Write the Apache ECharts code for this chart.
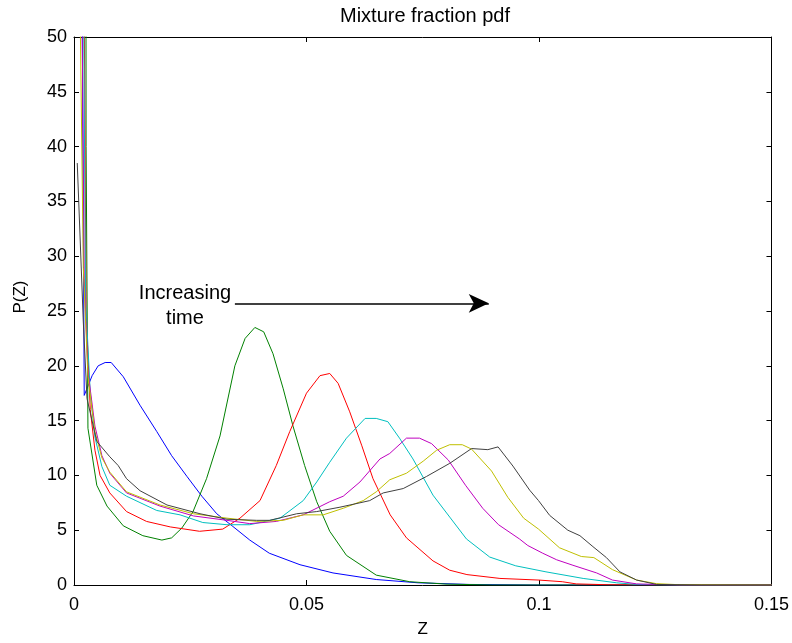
<!DOCTYPE html>
<html>
<head>
<meta charset="utf-8">
<title>Mixture fraction pdf</title>
<script src="https://cdn.jsdelivr.net/npm/echarts@6/dist/echarts.min.js"></script>
<style>
  html, body { margin: 0; padding: 0; background: #fff; }
  #chart { width: 792px; height: 643px; }
</style>
</head>
<body>
<div id="chart"></div>
<script>
// pdf curves, [Z, P(Z)]; values above 50 get clipped by the grid
const blue = [[0.0008, 130], [0.0022, 17.3], [0.0039, 19.1], [0.0052, 20.0], [0.0067, 20.3], [0.008, 20.3], [0.0106, 19.0], [0.0142, 16.4], [0.0178, 14.0], [0.021, 11.8], [0.0243, 9.9], [0.0275, 8.1], [0.0307, 6.5], [0.034, 5.4], [0.0378, 4.1], [0.042, 2.9], [0.0486, 1.85], [0.0557, 1.1], [0.065, 0.5], [0.074, 0.2], [0.085, 0.05], [0.1, 0], [0.15, 0]]
const green = [[0.0023, 200], [0.0026, 40], [0.003, 14.3], [0.0049, 9.1], [0.0071, 7.2], [0.0106, 5.4], [0.0148, 4.5], [0.0189, 4.1], [0.021, 4.3], [0.0232, 5.2], [0.0256, 6.7], [0.0285, 9.7], [0.0314, 13.6], [0.0346, 20], [0.0368, 22.5], [0.0389, 23.5], [0.0408, 23.1], [0.0428, 21.1], [0.045, 17.9], [0.0471, 14.5], [0.0496, 10.9], [0.0522, 7.6], [0.055, 4.9], [0.0586, 2.7], [0.065, 0.9], [0.0722, 0.3], [0.08, 0.08], [0.09, 0], [0.15, 0]]
const red = [[0.0018, 80], [0.0026, 25], [0.0035, 16], [0.0045, 12.3], [0.0056, 10], [0.0077, 8.4], [0.0113, 6.7], [0.0156, 5.8], [0.0207, 5.3], [0.027, 4.9], [0.032, 5.1], [0.0357, 6.1], [0.04, 7.7], [0.0435, 10.9], [0.0464, 14.0], [0.05, 17.5], [0.0529, 19.1], [0.055, 19.3], [0.0568, 18.4], [0.0593, 15.8], [0.0619, 12.7], [0.0643, 9.7], [0.068, 6.4], [0.0715, 4.3], [0.0772, 2.2], [0.0808, 1.35], [0.0845, 0.95], [0.0916, 0.6], [0.1, 0.45], [0.105, 0.3], [0.108, 0.1], [0.115, 0.02], [0.15, 0]]
const cyan = [[0.0016, 80], [0.0025, 26], [0.0035, 17.5], [0.0045, 13.5], [0.006, 10.8], [0.0077, 9.1], [0.0113, 8.1], [0.0178, 6.8], [0.0228, 6.4], [0.0277, 5.7], [0.0329, 5.5], [0.0378, 5.5], [0.0443, 6.1], [0.0493, 7.7], [0.0522, 9.4], [0.055, 11.2], [0.0586, 13.4], [0.0626, 15.2], [0.065, 15.2], [0.0675, 14.9], [0.07, 13.4], [0.0729, 11.5], [0.0772, 8.2], [0.0808, 6.2], [0.0844, 4.2], [0.0894, 2.55], [0.095, 1.75], [0.1015, 1.2], [0.1095, 0.6], [0.1167, 0.2], [0.121, 0.05], [0.13, 0], [0.15, 0]]
const magenta = [[0.0012, 80], [0.0022, 28], [0.003, 19.5], [0.0045, 14.5], [0.006, 11.8], [0.0077, 10.2], [0.0113, 8.4], [0.0185, 7.2], [0.0257, 6.3], [0.0329, 5.9], [0.0378, 5.6], [0.0435, 5.8], [0.0493, 6.4], [0.055, 7.6], [0.0579, 8.1], [0.0615, 9.4], [0.0658, 11.5], [0.0679, 12.0], [0.0715, 13.4], [0.0743, 13.4], [0.0769, 12.9], [0.0805, 11.4], [0.0842, 9.1], [0.0879, 7.0], [0.0913, 5.5], [0.0958, 4.2], [0.0976, 3.6], [0.1008, 2.9], [0.1038, 2.3], [0.1073, 1.8], [0.1124, 1.1], [0.1158, 0.45], [0.121, 0.1], [0.13, 0], [0.15, 0]]
const yellow = [[0.0008, 70], [0.002, 29], [0.003, 19], [0.0045, 14], [0.006, 11.6], [0.0077, 10.3], [0.0113, 8.5], [0.0185, 7.3], [0.0257, 6.5], [0.0329, 6.1], [0.0393, 5.8], [0.045, 5.9], [0.0493, 6.4], [0.0536, 6.4], [0.0579, 7.0], [0.0622, 7.7], [0.065, 8.5], [0.0679, 9.6], [0.0715, 10.2], [0.0751, 11.3], [0.078, 12.3], [0.0808, 12.8], [0.0835, 12.8], [0.0855, 12.4], [0.0898, 10.4], [0.0933, 8.0], [0.0967, 6.1], [0.0999, 5.1], [0.1044, 3.4], [0.1091, 2.6], [0.1118, 2.5], [0.1158, 1.4], [0.121, 0.45], [0.1253, 0.12], [0.13, 0.03], [0.15, 0]]
const black = [[0.0007, 38.5], [0.002, 24], [0.0028, 17], [0.0049, 13.1], [0.0077, 11.7], [0.0095, 10.9], [0.0113, 9.7], [0.0142, 8.6], [0.02, 7.3], [0.0271, 6.5], [0.0329, 6.0], [0.0393, 5.9], [0.0421, 5.9], [0.0479, 6.5], [0.0522, 6.7], [0.0572, 7.1], [0.0615, 7.5], [0.0636, 7.7], [0.0665, 8.4], [0.0708, 8.8], [0.0758, 9.9], [0.0808, 11.1], [0.0855, 12.45], [0.089, 12.35], [0.0912, 12.6], [0.0944, 10.85], [0.098, 8.65], [0.0999, 7.7], [0.1023, 6.35], [0.1062, 5.0], [0.1088, 4.5], [0.1116, 3.5], [0.1145, 2.5], [0.1174, 1.2], [0.121, 0.45], [0.1253, 0.05], [0.135, 0], [0.15, 0]]

// annotation arrow, from / to in data units
const arrowFrom = [0.0346, 25.7]
const arrowTo = [0.0892, 25.7]

const xTicks = ['0', '0.05', '0.1', '0.15']

const FONT = 'Liberation Sans, Arial, sans-serif'

const CURVES = [
  { data: blue, color: '#0000ff' },
  { data: green, color: '#008000' },
  { data: red, color: '#ff0000' },
  { data: cyan, color: '#00bfbf' },
  { data: magenta, color: '#bf00bf' },
  { data: yellow, color: '#bfbf00' },
  { data: black, color: '#404040' },
]

function frameAxis(extra) {
  return Object.assign({
    type: 'value',
    axisLine: { show: true, onZero: false, lineStyle: { color: '#000', width: 1 } },
    axisTick: { show: true, inside: true, length: 5, lineStyle: { color: '#000' } },
    splitLine: { show: false },
  }, extra)
}

function buildOption() {
  const series = CURVES.map((c) => ({
    type: 'line',
    data: c.data,
    showSymbol: false,
    symbol: 'none',
    clip: true,
    lineStyle: { color: c.color, width: 1 },
    itemStyle: { color: c.color },
  }))

  series.push({
    type: 'line',
    data: [],
    silent: true,
    markLine: {
      silent: true,
      symbol: ['none', 'arrow'],
      symbolSize: [14, 20],
      label: { show: false },
      lineStyle: { color: '#000', width: 1.5, type: 'solid' },
      data: [[{ coord: arrowFrom }, { coord: arrowTo }]],
    },
  })

  return {
    animation: false,
    backgroundColor: '#fff',
    title: {
      text: 'Mixture fraction pdf',
      left: 420,
      top: 1,
      textAlign: 'center',
      textStyle: { fontFamily: FONT, fontSize: 20, fontWeight: 'normal', color: '#000' },
    },
    grid: { left: 74, right: 20, top: 37, bottom: 56 },
    xAxis: [
      frameAxis({
        min: 0,
        max: 0.15,
        interval: 0.05,
        name: 'Z',
        nameLocation: 'middle',
        nameGap: 36,
        nameTextStyle: { fontFamily: FONT, fontSize: 17, color: '#000' },
        axisLabel: {
          margin: 11,
          fontFamily: FONT,
          fontSize: 18,
          color: '#000',
          formatter: (v) => xTicks[Math.round(v / 0.05)],
        },
      }),
      frameAxis({ position: 'top', min: 0, max: 0.15, interval: 0.05, axisLabel: { show: false } }),
    ],
    yAxis: [
      frameAxis({
        min: 0,
        max: 50,
        interval: 5,
        axisLabel: { margin: 7, fontFamily: FONT, fontSize: 18, color: '#000' },
      }),
      frameAxis({ position: 'right', min: 0, max: 50, interval: 5, axisLabel: { show: false } }),
    ],
    graphic: [
      {
        type: 'text',
        x: 185,
        y: 306,
        style: {
          text: 'Increasing\ntime',
          fill: '#000',
          font: '20px ' + FONT,
          align: 'center',
          verticalAlign: 'middle',
          lineHeight: 25,
        },
      },
      {
        type: 'text',
        x: 20,
        y: 297,
        rotation: Math.PI / 2,
        style: {
          text: 'P(Z)',
          fill: '#000',
          font: '17px ' + FONT,
          align: 'center',
          verticalAlign: 'middle',
        },
      },
    ],
    series,
  }
}

const chart = echarts.init(document.getElementById('chart'), null, { renderer: 'canvas' })
chart.setOption(buildOption())
</script>
</body>
</html>
